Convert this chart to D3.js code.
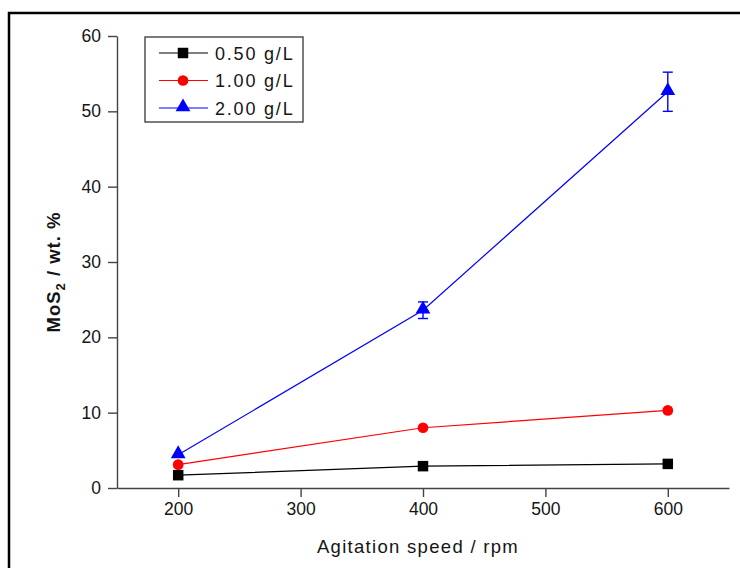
<!DOCTYPE html>
<html>
<head>
<meta charset="utf-8">
<script src="https://cdn.jsdelivr.net/npm/d3@7"></script>
<style>
  html, body { margin: 0; padding: 0; background: #fff; }
  svg { display: block; font-family: Arial, "Liberation Sans", sans-serif; }
</style>
</head>
<body>
<svg id="chart" width="740" height="568"></svg>
<script>
// Agitation speed (rpm) for each measurement
const speeds = [200, 400, 600];

// MoS2 content (wt. %) for each bath concentration
const series = [
  { name: "0.50 g/L", color: "#000000", symbol: "square",   values: [1.7, 2.9, 3.2],   errors: [0, 0, 0] },
  { name: "1.00 g/L", color: "#ff0000", symbol: "circle",   values: [3.1, 8.0, 10.3],  errors: [0, 0, 0] },
  { name: "2.00 g/L", color: "#0000ff", symbol: "triangle", values: [4.4, 23.6, 52.6], errors: [0, 1.1, 2.6] }
];

const xTicks = [200, 300, 400, 500, 600];
const yTicks = [0, 10, 20, 30, 40, 50, 60];

const svg = d3.select("#chart");

// Outer frame
svg.append("path")
  .attr("d", "M9,568 L9,13 L740,13")
  .attr("fill", "none")
  .attr("stroke", "#000")
  .attr("stroke-width", 2.5);

const x = d3.scaleLinear().domain([150, 650]).range([117, 729]);
const y = d3.scaleLinear().domain([0, 60]).range([488, 36]);

const axisColor = "#444";
const textColor = "#151515";

// X axis with minor ticks
const gx = svg.append("g").attr("transform", `translate(0,${y(0)})`);
gx.call(d3.axisBottom(x).tickValues([250, 350, 450, 550, 650]).tickSize(5).tickFormat(""));
gx.call(d3.axisBottom(x).tickValues(xTicks).tickSize(9).tickSizeOuter(0).tickPadding(6));
gx.selectAll("path, line").attr("stroke", axisColor).attr("stroke-width", 1.4);
gx.selectAll("text").attr("font-size", 17.5).attr("fill", textColor).attr("font-family", "Arial, 'Liberation Sans', sans-serif");

// Y axis with minor ticks
const gy = svg.append("g").attr("transform", `translate(${x(150)},0)`);
gy.call(d3.axisLeft(y).tickValues(d3.range(5, 60, 10)).tickSize(5).tickFormat(""));
gy.call(d3.axisLeft(y).tickValues(yTicks).tickSize(9).tickSizeOuter(0).tickPadding(7));
gy.selectAll("path, line").attr("stroke", axisColor).attr("stroke-width", 1.4);
gy.selectAll("text").attr("font-size", 17.5).attr("fill", textColor).attr("font-family", "Arial, 'Liberation Sans', sans-serif");

// Axis titles
svg.append("text")
  .attr("x", 418).attr("y", 553)
  .attr("text-anchor", "middle")
  .attr("font-size", 18.5).attr("fill", textColor)
  .attr("letter-spacing", 1.3)
  .text("Agitation speed / rpm");

const yt = svg.append("text")
  .attr("transform", "translate(60,272) rotate(-90)")
  .attr("text-anchor", "middle")
  .attr("font-size", 18.5).attr("font-weight", "bold").attr("fill", textColor)
  .attr("letter-spacing", 1.0);
yt.append("tspan").text("MoS");
yt.append("tspan").attr("font-size", 13).attr("dy", 5).text("2");
yt.append("tspan").attr("dy", -5).text(" / wt. %");

const symbolType = { square: d3.symbolSquare, circle: d3.symbolCircle, triangle: d3.symbolTriangle };
const symbolSize = { square: 110, circle: 90, triangle: 95 };

const line = d3.line().x(d => x(d.s)).y(d => y(d.v));

series.forEach(sr => {
  const pts = speeds.map((s, i) => ({ s, v: sr.values[i], e: sr.errors[i] }));
  const g = svg.append("g");
  g.append("path").datum(pts)
    .attr("d", line).attr("fill", "none")
    .attr("stroke", sr.color).attr("stroke-width", 1.2);

  // error bars
  pts.filter(p => p.e > 0).forEach(p => {
    const cx = x(p.s);
    const eb = g.append("g").attr("stroke", sr.color).attr("stroke-width", 1.4);
    eb.append("line").attr("x1", cx).attr("x2", cx).attr("y1", y(p.v + p.e)).attr("y2", y(p.v - p.e));
    eb.append("line").attr("x1", cx - 5).attr("x2", cx + 5).attr("y1", y(p.v + p.e)).attr("y2", y(p.v + p.e));
    eb.append("line").attr("x1", cx - 5).attr("x2", cx + 5).attr("y1", y(p.v - p.e)).attr("y2", y(p.v - p.e));
  });

  g.selectAll("path.mark").data(pts).enter().append("path")
    .attr("class", "mark")
    .attr("d", d3.symbol().type(symbolType[sr.symbol]).size(symbolSize[sr.symbol]))
    .attr("transform", p => `translate(${x(p.s)},${y(p.v) + (sr.symbol === "triangle" ? -1 : 0)})`)
    .attr("fill", sr.color);
});

// Legend
const lg = svg.append("g");
lg.append("rect")
  .attr("x", 145).attr("y", 37).attr("width", 158).attr("height", 85)
  .attr("fill", "#fff").attr("stroke", axisColor).attr("stroke-width", 1.4);
series.forEach((sr, i) => {
  const cy = 53 + i * 27.5;
  lg.append("line").attr("x1", 159).attr("x2", 208).attr("y1", cy).attr("y2", cy)
    .attr("stroke", sr.color).attr("stroke-width", 1.2);
  lg.append("path")
    .attr("d", d3.symbol().type(symbolType[sr.symbol]).size(symbolSize[sr.symbol])())
    .attr("transform", `translate(183,${cy + (sr.symbol === "triangle" ? -1 : 0)})`)
    .attr("fill", sr.color);
  lg.append("text").attr("x", 215).attr("y", cy + 6.5)
    .attr("font-size", 18).attr("fill", textColor)
    .attr("letter-spacing", 1.8)
    .text(sr.name);
});
</script>
</body>
</html>
